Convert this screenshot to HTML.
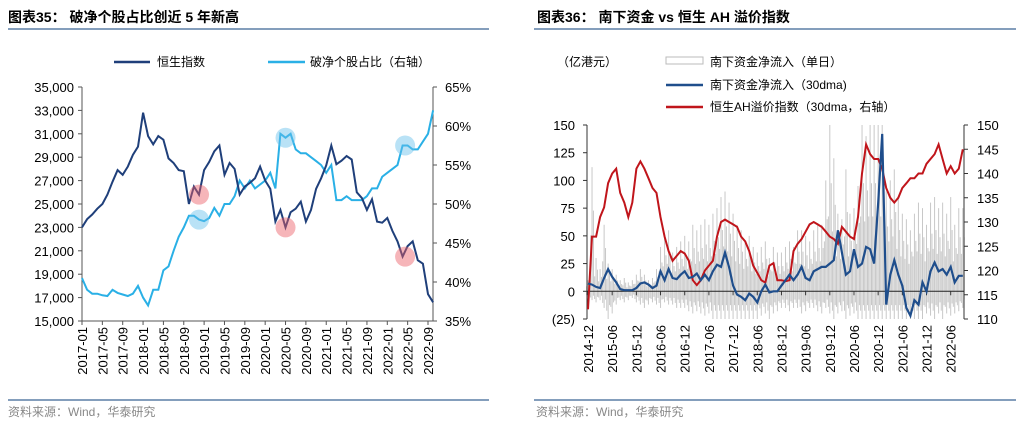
<!DOCTYPE html>
<html><head><meta charset="utf-8">
<style>
body{margin:0;background:#fff;width:1024px;height:426px;overflow:hidden;font-family:"Liberation Sans","Noto Sans CJK SC",sans-serif}
svg text{font-family:"Liberation Sans","Noto Sans CJK SC",sans-serif}
</style></head><body>
<svg id="s" width="1024" height="426" xmlns="http://www.w3.org/2000/svg">
<text x="8" y="22" font-size="14" font-weight="bold" fill="#000">图表35： 破净个股占比创近 5 年新高</text>
<line x1="8" y1="29" x2="489" y2="29" stroke="#5b7fa6" stroke-width="1.5"/>
<text x="537" y="22" font-size="14" font-weight="bold" fill="#000">图表36： 南下资金 vs 恒生 AH 溢价指数</text>
<line x1="534" y1="29" x2="1016" y2="29" stroke="#5b7fa6" stroke-width="1.5"/>
<line x1="8" y1="400" x2="489" y2="400" stroke="#5b7fa6" stroke-width="1.5"/>
<line x1="534" y1="400" x2="1016" y2="400" stroke="#5b7fa6" stroke-width="1.5"/>
<text x="8" y="416" font-size="12" fill="#888">资料来源：Wind，华泰研究</text>
<text x="536" y="416" font-size="12" fill="#888">资料来源：Wind，华泰研究</text>

<line x1="114" y1="62" x2="150" y2="62" stroke="#1f3f7a" stroke-width="2.5"/>
<text x="157" y="66" font-size="12">恒生指数</text>
<line x1="268" y1="62" x2="305" y2="62" stroke="#2ab0e6" stroke-width="2.5"/>
<text x="310" y="66" font-size="12">破净个股占比（右轴）</text>

<text x="557" y="66" font-size="12">（亿港元）</text>
<rect x="666" y="57" width="37" height="7" fill="#fff" stroke="#bbb"/>
<text x="710" y="66" font-size="12">南下资金净流入（单日）</text>
<line x1="666" y1="85" x2="703" y2="85" stroke="#1f4e8c" stroke-width="2.5"/>
<text x="710" y="89" font-size="12">南下资金净流入（30dma)</text>
<line x1="666" y1="107" x2="703" y2="107" stroke="#c0151b" stroke-width="2.5"/>
<text x="710" y="111" font-size="12">恒生AH溢价指数（30dma，右轴）</text>
<g id="L"></g><g id="R"></g>
</svg>
<script>
// ---- left chart data ----
const hsiMonths = ["2017-01","2017-05","2017-09","2018-01","2018-05","2018-09","2019-01","2019-05","2019-09","2020-01","2020-05","2020-09","2021-01","2021-05","2021-09","2022-01","2022-05","2022-09"];
const hsiLeftTicks = [15000,17000,19000,21000,23000,25000,27000,29000,31000,33000,35000];
const hsiRightTicks = [35,40,45,50,55,60,65];
const hsiValues = [23000,23700,24100,24600,25000,25800,26900,27900,27500,28200,29200,29900,
 32800,30800,30100,30800,30500,28900,28500,27900,27800,25000,26500,25800,
 27900,28600,29500,30000,27500,28500,28000,25800,26500,26800,27200,28200,
 27000,26300,23500,24500,23000,24300,24600,25200,23500,24500,26300,27200,
 28300,30000,28400,28700,29100,28800,26000,25500,24500,25400,23500,23400,
 23800,22700,21800,20500,21400,21800,20200,19900,17300,16600];
const ratioValues = [40.5,39,38.5,38.5,38.3,38.2,39,38.6,38.4,38.2,38.5,39.5,
 38,37,39,39,41.5,42,44,45.8,47,48.5,48.5,48,
 47.8,48.2,49.5,48.5,50,50,51,53,52,53,52,52.5,
 53,54,52,59,58.5,59,57,56.5,56.5,56,55.5,55,
 54,55,50.5,50.5,51,50.5,50.5,50.5,51,52,52,53.5,
 54,54.5,55,57.5,57.5,57,57,58,59,62];
// ---- right chart data ----
const sbLabels = ["2014-12","2015-06","2015-12","2016-06","2016-12","2017-06","2017-12","2018-06","2018-12","2019-06","2019-12","2020-06","2020-12","2021-06","2021-12","2022-06"];
const sbLeftTicks = [-25,0,25,50,75,100,125,150];
const sbRightTicks = [110,115,120,125,130,135,140,145,150];
const ahValues = [112,127,127,131,133,138,140,141,136,134,131,134,141,142.5,141,139,137,136,131,127,124,122,123,124,123.5,122,118,117,118,120,121,122,127,130,130.5,130,129.5,129,127,126,124,121,119.5,118,117.5,121,121.5,118,118,117.8,118,124,125.5,126.5,128,129.5,130,129.5,129,128,127,126.5,125.5,129,128,127,126.5,131,140,146,144,143,143,141,137,135,134,135,137,138,139,139,140,140,142,143,144,146,143,140,141.5,140,141,145];
const flowMa = [7,6,4,3,12,20,13,8,2,1,1,1,3,7,8,6,3,5,18,10,20,12,11,15,18,12,13,16,10,15,10,18,24,22,35,22,5,-3,-5,-8,-2,-5,-10,0,6,-1,0,0,5,10,15,10,15,22,12,10,18,20,22,22,25,28,55,35,15,18,38,22,25,40,38,25,80,142,-12,15,28,15,5,-15,-22,-8,-12,8,0,18,26,18,20,15,22,8,14,14];
const flowMax = [10,112,30,20,60,25,20,15,10,12,8,10,15,20,15,10,12,20,40,50,55,35,40,45,50,45,60,55,60,65,60,70,75,85,90,80,70,60,55,45,50,40,35,40,45,30,40,35,35,40,45,40,55,55,50,45,55,60,60,100,150,120,70,65,110,70,75,95,150,140,150,150,150,150,90,100,110,85,70,65,55,70,80,75,60,80,85,75,80,70,85,60,75,75];
const flowMin = [-5,-8,-10,-8,-15,-25,-20,-12,-8,-10,-8,-6,-10,-12,-15,-12,-10,-12,-15,-10,-12,-12,-15,-15,-15,-18,-20,-18,-20,-22,-20,-25,-25,-25,-25,-25,-25,-25,-25,-25,-25,-25,-25,-22,-20,-25,-20,-18,-15,-15,-18,-15,-15,-20,-18,-15,-15,-18,-20,-15,-20,-25,-20,-18,-25,-22,-20,-25,-25,-25,-25,-25,-25,-25,-25,-25,-25,-25,-25,-25,-25,-25,-25,-25,-20,-22,-25,-20,-25,-20,-22,-20,-18,-15];

const NS="http://www.w3.org/2000/svg";
function mk(tag, attrs, parent, txt){const e=document.createElementNS(NS,tag);for(const k in attrs)e.setAttribute(k,attrs[k]);if(txt!==undefined)e.textContent=txt;parent.appendChild(e);return e;}

(function(){
 const g=document.getElementById('L');
 const x0=82,x1=433,y0=87,y1=321,pm=(428-82)/68;
 const X=i=>x0+i*pm;
 const YL=v=>y1-(v-15000)/20000*(y1-y0);
 const YR=v=>y1-(v-35)/30*(y1-y0);
 let e;
 e=mk('line',{x1:x0,y1:y0,x2:x0,y2:y1,stroke:'#555'},g);
 
 
 e=mk('line',{x1:x1,y1:y0,x2:x1,y2:y1,stroke:'#555'},g);
 
 
 e=mk('line',{x1:x0,y1:y1,x2:x1,y2:y1,stroke:'#555'},g);
 
 
 hsiLeftTicks.forEach(v=>{const y=YL(v);mk('line',{x1:x0-4,y1:y,x2:x0,y2:y,stroke:'#555'},g);
  e=mk('text',{x:x0-8,y:y+5,'font-size':13,'text-anchor':'end'},g,v.toLocaleString('en-US'));
  
  });
 hsiRightTicks.forEach(v=>{const y=YR(v);mk('line',{x1:x1,y1:y,x2:x1+4,y2:y,stroke:'#555'},g);
  e=mk('text',{x:x1+12,y:y+5,'font-size':13},g,v+'%');
  
  });
 hsiMonths.forEach((m,k)=>{const x=X(k*4);mk('line',{x1:x,y1:y1,x2:x,y2:y1+4,stroke:'#555'},g);
  e=mk('text',{transform:`translate(${x+5},${y1+6}) rotate(-90)`,'font-size':13,'text-anchor':'end'},g,m);
  
  });
 e=mk('path',{d:ratioValues.map((v,i)=>(i?'L':'M')+X(i).toFixed(1)+','+YR(v).toFixed(1)).join(''),fill:'none',stroke:'#2ab0e6','stroke-width':2},g);
 
 
 e=mk('path',{d:hsiValues.map((v,i)=>(i?'L':'M')+X(i).toFixed(1)+','+YL(v).toFixed(1)).join(''),fill:'none',stroke:'#1f3f7a','stroke-width':2},g);
 
 
 [[23,'r',hsiValues],[23,'b',ratioValues],[40,'b',ratioValues],[40,'r',hsiValues],[63.5,'b',ratioValues],[63.5,'r',hsiValues]].forEach(([i,c,arr])=>{
  const v=arr[Math.floor(i)];const y=c==='r'?YL(v):YR(v);
  e=mk('circle',{cx:X(i),cy:y,r:10,fill:c==='r'?'rgba(235,90,100,0.45)':'rgba(100,190,235,0.45)'},g);
  
  });
})();

(function(){
 const g=document.getElementById('R');
 const x0=587,x1=964,y0=125,y1=319,pm=4.03;
 const X=i=>588+i*pm;
 const YL=v=>y1-(v+25)/175*(y1-y0);
 const YR=v=>y1-(v-110)/40*(y1-y0);
 let e;
 const subs=[[-1.4,0.45,0.7],[0,1,1],[1.4,0.65,0.5]];
 flowMax.forEach((v,i)=>{
  subs.forEach(([dx,fp,fn])=>{
   e=mk('line',{x1:X(i)+dx,y1:YL(Math.min(v*fp,150)),x2:X(i)+dx,y2:YL(Math.max(flowMin[i]*fn,-25)),stroke:'#c8c8c8','stroke-width':1},g);
   
   
  });});
 e=mk('line',{x1:x0,y1:y0,x2:x0,y2:y1,stroke:'#333'},g);
 
 
 e=mk('line',{x1:x1,y1:y0,x2:x1,y2:y1,stroke:'#333'},g);
 
 
 e=mk('line',{x1:x0,y1:YL(0),x2:x1,y2:YL(0),stroke:'#222'},g);
 
 
 sbLeftTicks.forEach(v=>{const y=YL(v);mk('line',{x1:x0-4,y1:y,x2:x0,y2:y,stroke:'#333'},g);
  e=mk('text',{x:x0-12,y:y+5,'font-size':13,'text-anchor':'end'},g,v<0?'('+(-v)+')':String(v));
  
  });
 sbRightTicks.forEach(v=>{const y=YR(v);mk('line',{x1:x1,y1:y,x2:x1+4,y2:y,stroke:'#333'},g);
  e=mk('text',{x:x1+13,y:y+5,'font-size':13},g,String(v));
  
  });
 sbLabels.forEach((m,k)=>{const x=X(k*6);mk('line',{x1:x,y1:YL(0),x2:x,y2:YL(0)+4,stroke:'#333'},g);
  e=mk('text',{transform:`translate(${x+5},${y1+6}) rotate(-90)`,'font-size':13,'text-anchor':'end'},g,m);
  
  });
 e=mk('path',{d:ahValues.map((v,i)=>(i?'L':'M')+X(i).toFixed(1)+','+YR(v).toFixed(1)).join(''),fill:'none',stroke:'#c0151b','stroke-width':2},g);
 
 
 e=mk('path',{d:flowMa.map((v,i)=>(i?'L':'M')+X(i).toFixed(1)+','+YL(v).toFixed(1)).join(''),fill:'none',stroke:'#1f4e8c','stroke-width':2.2},g);
 
 
})();
</script>
</body></html>
